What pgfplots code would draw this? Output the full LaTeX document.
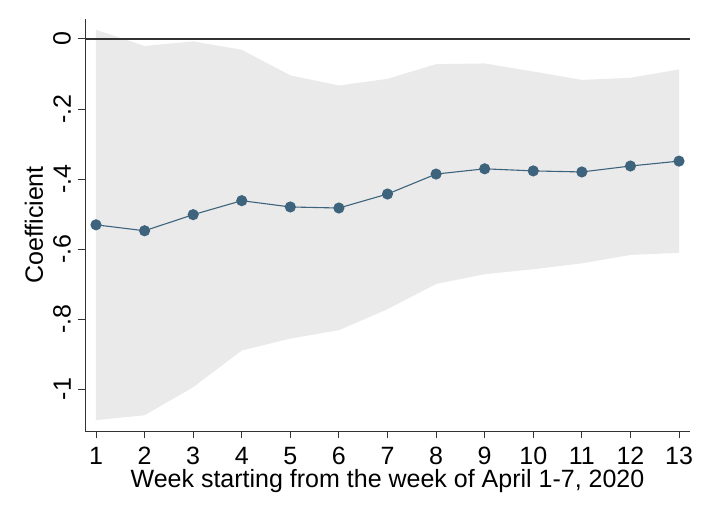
\documentclass[border=0pt]{standalone}
\usepackage{pgfplots}
\pgfplotsset{compat=1.18}
\usepackage{pgfplotstable}
\usepgfplotslibrary{fillbetween}
\usepackage{fontspec}
\setmainfont{Liberation Sans}
\definecolor{ser}{HTML}{3E647D}
\definecolor{ci}{HTML}{EAEAEA}
\definecolor{ax}{HTML}{333333}
\pgfplotstableread{
x coef lo hi
1 -0.531 -1.089 0.026
2 -0.548 -1.075 -0.020
3 -0.502 -0.995 -0.007
4 -0.462 -0.890 -0.031
5 -0.480 -0.856 -0.104
6 -0.483 -0.832 -0.133
7 -0.443 -0.772 -0.114
8 -0.386 -0.700 -0.072
9 -0.371 -0.672 -0.070
10 -0.377 -0.658 -0.093
11 -0.380 -0.641 -0.117
12 -0.363 -0.617 -0.111
13 -0.349 -0.611 -0.087
}\coefdata
\begin{document}
\begin{tikzpicture}
\begin{axis}[at={(85pt,85pt)}, anchor=south west, scale only axis,
  width=605pt, height=412pt,
  xmin=0.774, xmax=13.226, ymin=-1.12, ymax=0.057,
  axis x line*=bottom, axis y line*=left,
  axis line style={ax, line width=0.9pt, -},
  xtick={1,...,13},
  ytick={-1,-0.8,-0.6,-0.4,-0.2,0},
  yticklabels={-1,-.8,-.6,-.4,-.2,0},
  tick align=outside, major tick length=7.5pt,
  tick style={ax, line width=0.9pt},
  xticklabel style={font=\fontsize{25}{25}\selectfont},
  yticklabel style={font=\fontsize{25}{25}\selectfont, rotate=90, anchor=south},
  xticklabel shift=5pt,
  yticklabel shift=3pt,
  /pgf/number format/assume math mode=true,
  xlabel={Week starting from the week of April 1-7, 2020},
  ylabel={Coefficient},
  xlabel style={font=\fontsize{25}{25}\selectfont, at={(axis description cs:0.5,-0.1383)}, anchor=base},
  ylabel style={font=\fontsize{25}{25}\selectfont, at={(axis description cs:-0.0843,0.5)}, anchor=center},
  clip=false,
]
\addplot[name path=hi, draw=none] table[x=x, y=hi] {\coefdata};
\addplot[name path=lo, draw=none] table[x=x, y=lo] {\coefdata};
\addplot[ci, draw=none] fill between[of=hi and lo];
\addplot[ax, line width=1.4pt] coordinates {(0.774,0) (13.226,0)};
\addplot[ser, line width=1.1pt, mark=*, mark size=5pt, mark options={fill=ser, draw=ser}] table[x=x, y=coef] {\coefdata};
\end{axis}
\pgfresetboundingbox
\path[use as bounding box] (0pt,0pt) rectangle (709pt,516pt);
\end{tikzpicture}
\end{document}
